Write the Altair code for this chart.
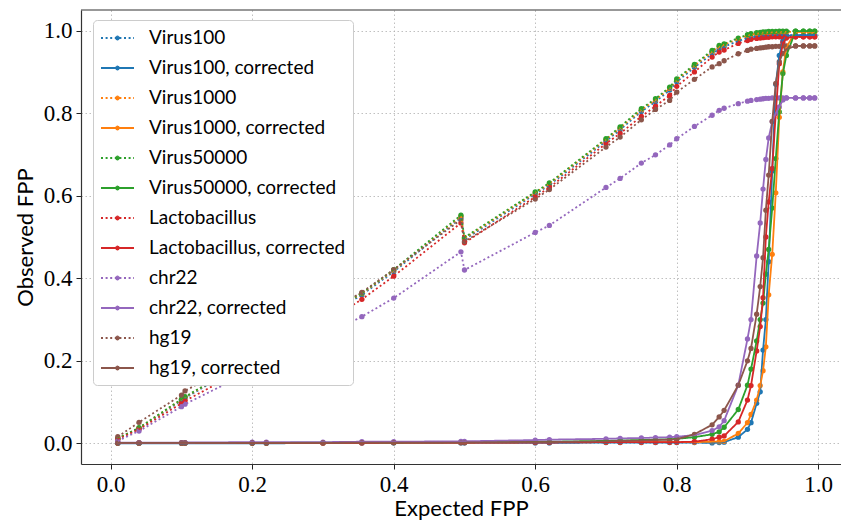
import altair as alt
import pandas as pd

# Expected FPP grid (x values)
expected = [0.01, 0.04, 0.1, 0.105, 0.2, 0.22, 0.3, 0.355, 0.4, 0.495, 0.5, 0.6, 0.62,
            0.7, 0.72, 0.75, 0.77, 0.79, 0.8, 0.825, 0.85, 0.86, 0.867, 0.887, 0.9,
            0.905, 0.913, 0.918, 0.922, 0.926, 0.93, 0.935, 0.94, 0.945, 0.95, 0.955,
            0.968, 0.979, 0.988, 0.995]

# Observed FPP (uncorrected)
virus100 = [0.011, 0.036, 0.104, 0.110, 0.204, 0.224, 0.304, 0.360, 0.416, 0.547, 0.494, 0.604, 0.626,
            0.732, 0.760, 0.804, 0.828, 0.856, 0.876, 0.911, 0.944, 0.956, 0.961, 0.975, 0.982,
            0.984, 0.986, 0.987, 0.988, 0.988, 0.988, 0.989, 0.989, 0.989, 0.989, 0.989,
            0.989, 0.989, 0.989, 0.989]
virus1000 = [0.012, 0.037, 0.106, 0.112, 0.207, 0.227, 0.307, 0.363, 0.419, 0.550, 0.497, 0.607, 0.629,
             0.736, 0.764, 0.808, 0.832, 0.860, 0.880, 0.915, 0.949, 0.961, 0.966, 0.980, 0.988,
             0.991, 0.993, 0.994, 0.995, 0.995, 0.996, 0.996, 0.996, 0.997, 0.997, 0.997,
             0.997, 0.997, 0.997, 0.997]
virus50000 = [0.012, 0.038, 0.107, 0.113, 0.208, 0.228, 0.309, 0.364, 0.421, 0.553, 0.499, 0.609, 0.631,
              0.738, 0.767, 0.811, 0.835, 0.863, 0.883, 0.918, 0.952, 0.964, 0.968, 0.982, 0.990,
              0.993, 0.995, 0.996, 0.997, 0.997, 0.998, 0.998, 0.998, 0.999, 0.999, 0.999,
              0.999, 0.999, 0.999, 0.999]
lactobacillus = [0.010, 0.034, 0.097, 0.103, 0.190, 0.210, 0.290, 0.349, 0.405, 0.534, 0.486, 0.597, 0.620,
                 0.726, 0.751, 0.792, 0.817, 0.843, 0.865, 0.900, 0.936, 0.948, 0.953, 0.969, 0.976,
                 0.979, 0.981, 0.982, 0.983, 0.984, 0.984, 0.985, 0.985, 0.985, 0.985, 0.985,
                 0.985, 0.985, 0.985, 0.985]
chr22 = [0.006, 0.030, 0.089, 0.095, 0.176, 0.193, 0.260, 0.307, 0.352, 0.464, 0.420, 0.511, 0.528,
         0.620, 0.642, 0.679, 0.699, 0.723, 0.738, 0.768, 0.795, 0.807, 0.812, 0.823, 0.829,
         0.831, 0.833, 0.834, 0.835, 0.836, 0.836, 0.837, 0.837, 0.837, 0.837, 0.837,
         0.837, 0.837, 0.837, 0.837]
hg19 = [0.016, 0.051, 0.117, 0.127, 0.218, 0.237, 0.314, 0.366, 0.421, 0.542, 0.489, 0.592, 0.615,
        0.718, 0.742, 0.784, 0.809, 0.831, 0.851, 0.882, 0.912, 0.920, 0.927, 0.944, 0.952,
        0.955, 0.957, 0.958, 0.959, 0.960, 0.961, 0.961, 0.962, 0.962, 0.963, 0.963,
        0.963, 0.963, 0.963, 0.963]

# Observed FPP (corrected)
virus100_corr = [0.000, 0.000, 0.000, 0.000, 0.000, 0.000, 0.001, 0.001, 0.001, 0.001, 0.001, 0.001, 0.001,
                 0.002, 0.002, 0.002, 0.002, 0.002, 0.002, 0.002, 0.001, 0.002, 0.003, 0.015, 0.034,
                 0.050, 0.097, 0.125, 0.226, 0.300, 0.440, 0.660, 0.870, 0.940, 0.975, 0.987,
                 0.989, 0.989, 0.989, 0.989]
virus1000_corr = [0.001, 0.001, 0.001, 0.001, 0.001, 0.001, 0.001, 0.002, 0.002, 0.002, 0.002, 0.003, 0.003,
                  0.003, 0.003, 0.003, 0.003, 0.003, 0.003, 0.003, 0.004, 0.004, 0.005, 0.024, 0.050,
                  0.070, 0.105, 0.140, 0.176, 0.234, 0.360, 0.458, 0.607, 0.790, 0.900, 0.960,
                  0.997, 0.997, 0.997, 0.997]
virus50000_corr = [0.001, 0.001, 0.001, 0.001, 0.001, 0.001, 0.002, 0.002, 0.002, 0.003, 0.003, 0.004, 0.004,
                   0.006, 0.007, 0.008, 0.009, 0.010, 0.011, 0.015, 0.022, 0.028, 0.039, 0.082, 0.141,
                   0.180, 0.248, 0.300, 0.340, 0.410, 0.470, 0.570, 0.690, 0.803, 0.896, 0.940,
                   0.999, 0.999, 0.999, 0.999]
lactobacillus_corr = [0.001, 0.001, 0.001, 0.001, 0.001, 0.001, 0.001, 0.001, 0.002, 0.002, 0.002, 0.002, 0.002,
                      0.003, 0.003, 0.003, 0.003, 0.003, 0.003, 0.004, 0.010, 0.015, 0.018, 0.052, 0.105,
                      0.140, 0.224, 0.283, 0.353, 0.500, 0.585, 0.666, 0.800, 0.920, 0.970, 0.982,
                      0.985, 0.985, 0.985, 0.985]
chr22_corr = [0.002, 0.002, 0.002, 0.002, 0.003, 0.003, 0.003, 0.004, 0.004, 0.005, 0.005, 0.008, 0.009,
              0.011, 0.012, 0.013, 0.014, 0.015, 0.016, 0.020, 0.031, 0.040, 0.055, 0.141, 0.253,
              0.300, 0.454, 0.534, 0.616, 0.688, 0.740, 0.780, 0.800, 0.815, 0.832, 0.837,
              0.837, 0.837, 0.837, 0.837]
hg19_corr = [0.001, 0.001, 0.001, 0.001, 0.001, 0.001, 0.001, 0.002, 0.002, 0.002, 0.002, 0.003, 0.003,
             0.005, 0.006, 0.007, 0.008, 0.009, 0.010, 0.022, 0.045, 0.064, 0.080, 0.141, 0.200,
             0.230, 0.313, 0.380, 0.450, 0.565, 0.650, 0.780, 0.872, 0.925, 0.945, 0.955,
             0.963, 0.963, 0.963, 0.963]

series_names = ["Virus100", "Virus100, corrected", "Virus1000", "Virus1000, corrected",
                "Virus50000", "Virus50000, corrected", "Lactobacillus", "Lactobacillus, corrected",
                "chr22", "chr22, corrected", "hg19", "hg19, corrected"]
series_values = [virus100, virus100_corr, virus1000, virus1000_corr, virus50000, virus50000_corr,
                 lactobacillus, lactobacillus_corr, chr22, chr22_corr, hg19, hg19_corr]
colors = ["#1f77b4", "#1f77b4", "#ff7f0e", "#ff7f0e", "#2ca02c", "#2ca02c",
          "#d62728", "#d62728", "#9467bd", "#9467bd", "#8c564b", "#8c564b"]
dashes = [[2, 2.6], [1, 0]] * 6
x_ticks = [0.0, 0.2, 0.4, 0.6, 0.8, 1.0]
y_ticks = [0.0, 0.2, 0.4, 0.6, 0.8, 1.0]

rows = []
for order, (name, vals) in enumerate(zip(series_names, series_values)):
    for xv, yv in zip(expected, vals):
        rows.append({"series": name, "order": order, "expected": xv, "observed": yv})
df = pd.DataFrame(rows)

PLOT_W, PLOT_H = 760, 454

x_enc = alt.X("expected:Q",
              scale=alt.Scale(domain=[-0.042, 1.0322], nice=False, zero=False),
              axis=alt.Axis(values=x_ticks, format=".1f", title="Expected FPP"))
y_enc = alt.Y("observed:Q",
              scale=alt.Scale(domain=[-0.05, 1.05], nice=False, zero=False),
              axis=alt.Axis(values=y_ticks, format=".1f", title="Observed FPP"))


# legend glyph: a line with a solid dot in the middle (dot built from tiny sub-paths
# so that a dotted stroke pattern still renders it solid)
def _tiny_circle(cx, cy, r=0.03):
    return f"M{cx - r:.3f},{cy:.3f}a{r},{r} 0 1,0 {2 * r},0a{r},{r} 0 1,0 {-2 * r},0"


_dot_c = 0.65
symbol_path = "M-1,0H2.3" + "".join(
    _tiny_circle(_dot_c + dx, dy) for dx, dy in
    [(0, 0), (0.12, 0), (-0.12, 0), (0, 0.12), (0, -0.12), (0.08, 0.08), (-0.08, 0.08),
     (0.08, -0.08), (-0.08, -0.08)]
)

legend = alt.Legend(
    title=None, orient="none", legendX=12, legendY=10,
    symbolType=symbol_path, symbolSize=400, symbolStrokeWidth=1.8,
    labelFont="Lato", labelFontSize=19, labelColor="black", labelOffset=27,
    labelLimit=0, rowPadding=9, padding=7, symbolOpacity=1,
    fillColor="white", strokeColor="#cccccc", cornerRadius=4,
)
color_scale = alt.Scale(domain=series_names, range=colors)
dash_scale = alt.Scale(domain=series_names, range=dashes)

points = alt.Chart(df).mark_point(filled=True, size=28, strokeWidth=0.01, opacity=1).encode(
    x=x_enc, y=y_enc,
    color=alt.Color("series:N", scale=color_scale, sort=series_names, legend=legend),
    stroke=alt.Stroke("series:N", scale=color_scale, sort=series_names, legend=legend),
    strokeDash=alt.StrokeDash("series:N", scale=dash_scale, sort=series_names, legend=legend),
)
lines = alt.Chart(df).mark_line(strokeWidth=1.8, strokeCap="butt").encode(
    x=x_enc, y=y_enc,
    color=alt.Color("series:N", scale=color_scale, sort=series_names, legend=legend),
    strokeDash=alt.StrokeDash("series:N", scale=dash_scale, sort=series_names, legend=legend),
    order=alt.Order("expected:Q"),
)
top_spine = alt.Chart(pd.DataFrame({"k": [0]})).mark_rule(color="#333333", strokeWidth=1.2).encode(
    x=alt.value(0), x2=alt.value(PLOT_W), y=alt.value(0)
)

chart = alt.layer(points, lines, top_spine).properties(
    width=PLOT_W, height=PLOT_H,
    padding={"left": 73, "top": 2, "right": 0, "bottom": 56},
    autosize="none",
).configure_view(
    stroke=None
).configure_axis(
    domain=True, domainColor="#333333", domainWidth=1.2,
    grid=True, gridColor="#b0b0b0", gridDash=[1.5, 2.5], gridWidth=0.8,
    ticks=True, tickColor="#222222", tickSize=5, tickWidth=1,
    labelFont="Liberation Serif", labelFontSize=23, labelColor="black", labelPadding=4,
    titleFont="Lato", titleFontSize=22, titleFontWeight="normal", titleColor="black",
).configure_axisX(
    titlePadding=2
).configure_axisY(
    titlePadding=6
)

chart.save("out.html", embed_options={"renderer": "svg", "actions": False})
